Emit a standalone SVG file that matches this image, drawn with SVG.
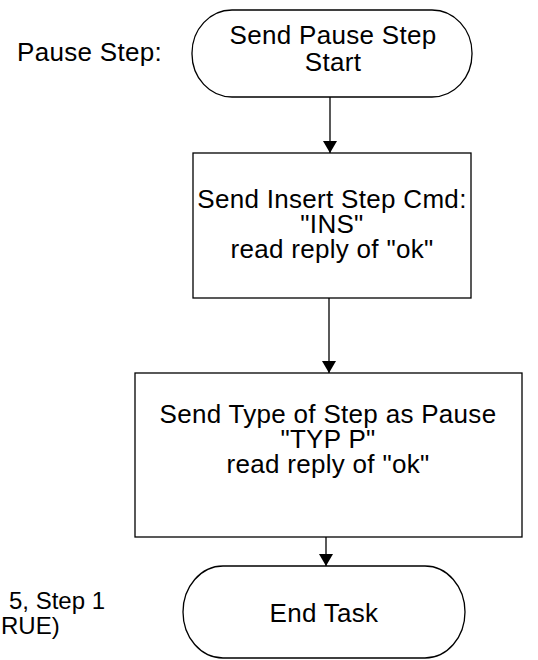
<svg xmlns="http://www.w3.org/2000/svg" width="538" height="660" viewBox="0 0 538 660">
<style>
.s{fill:#fff;stroke:#000;stroke-width:1.3}
.t{font-family:"Liberation Sans",Arial,sans-serif;font-size:26px;letter-spacing:0.3px;fill:#000;text-anchor:middle}
.l{font-family:"Liberation Sans",Arial,sans-serif;font-size:26px;letter-spacing:0.3px;fill:#000}
.f{font-family:"Liberation Sans",Arial,sans-serif;font-size:24px;fill:#000}
.c{stroke:#000;stroke-width:1.3;fill:none}
</style>
<defs>
<marker id="ah" viewBox="0 0 12 14" refX="12" refY="7" markerWidth="12" markerHeight="14" markerUnits="userSpaceOnUse" orient="auto">
<path d="M0,0 L12,7 L0,14 Z" fill="#000"/>
</marker>
</defs>
<rect width="538" height="660" fill="#fff"/>
<g id="label-pause">
<text class="l" x="17" y="61">Pause Step:</text>
</g>
<g id="label-fig">
<text class="f" x="9" y="609">5, Step 1</text>
<text class="f" x="1" y="634">RUE)</text>
</g>
<g id="start">
<rect class="s" x="192" y="10" width="280" height="87" rx="40" ry="43"/>
<text class="t" x="333" y="44">Send Pause Step</text>
<text class="t" x="333" y="71">Start</text>
</g>
<g id="insert">
<rect class="s" x="193" y="153" width="278" height="145"/>
<text class="t" x="332" y="208">Send Insert Step Cmd:</text>
<text class="t" x="332" y="233">"INS"</text>
<text class="t" x="332" y="258">read reply of "ok"</text>
</g>
<g id="type">
<rect class="s" x="135" y="373" width="387" height="164"/>
<text class="t" x="328" y="423">Send Type of Step as Pause</text>
<text class="t" x="328" y="448">"TYP P"</text>
<text class="t" x="328" y="473">read reply of "ok"</text>
</g>
<g id="end">
<rect class="s" x="183" y="566" width="282" height="92" rx="40" ry="46"/>
<text class="t" x="324" y="622">End Task</text>
</g>
<g id="connectors">
<line class="c" x1="330" y1="97" x2="330" y2="153" marker-end="url(#ah)"/>
<line class="c" x1="329" y1="298" x2="329" y2="373" marker-end="url(#ah)"/>
<line class="c" x1="326" y1="537" x2="326" y2="566" marker-end="url(#ah)"/>
</g>
</svg>
